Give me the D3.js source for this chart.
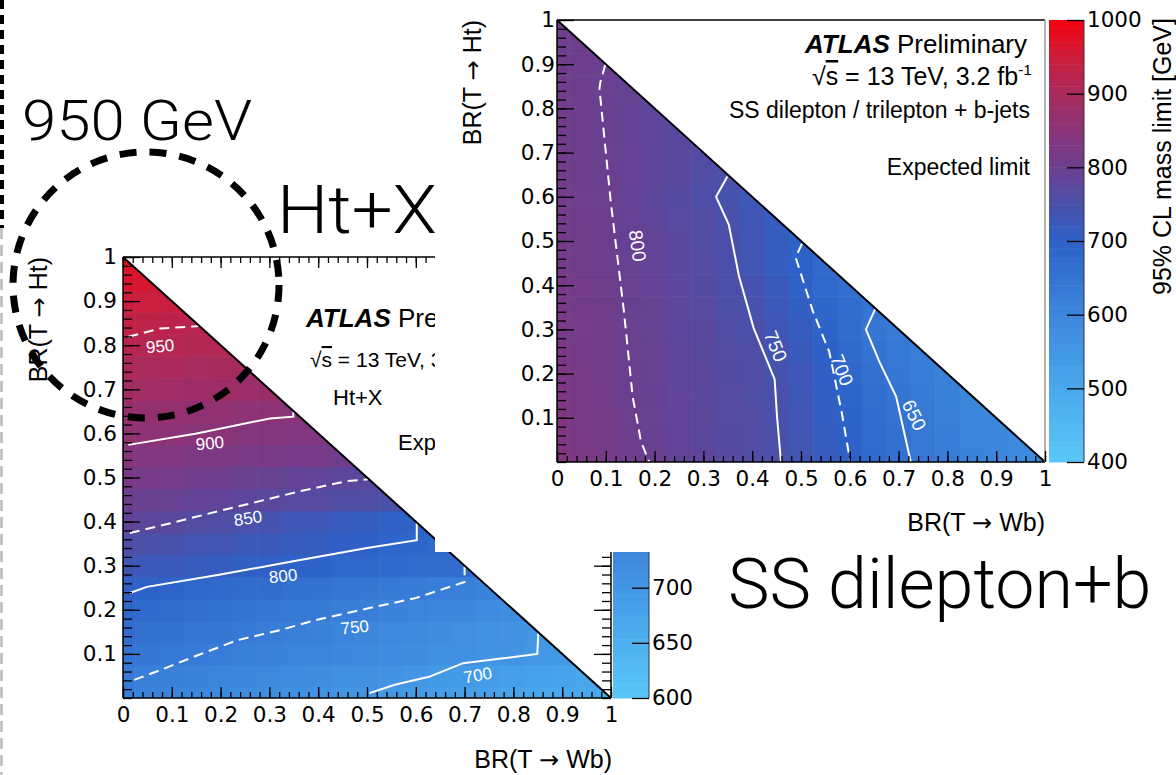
<!DOCTYPE html>
<html><head><meta charset="utf-8">
<script src="https://cdn.jsdelivr.net/npm/d3@7"></script>
<style>body{margin:0;background:#fff}svg{display:block}</style>
</head><body><svg id="c" width="1176" height="775"></svg>
<script>
// ---------------- data ----------------
const binCenters = [0,0.05,0.1,0.15,0.2,0.25,0.3,0.35,0.4,0.45,0.5,0.55,0.6,0.65,0.7,0.75,0.8,0.85,0.9,0.95,1];
const binHalf = 0.025;
const xTickVals = [0,0.1,0.2,0.3,0.4,0.5,0.6,0.7,0.8,0.9,1];
const xTickLabels = ["0","0.1","0.2","0.3","0.4","0.5","0.6","0.7","0.8","0.9","1"];
const yTickVals = [0.1,0.2,0.3,0.4,0.5,0.6,0.7,0.8,0.9,1];
const yTickLabels = ["0.1","0.2","0.3","0.4","0.5","0.6","0.7","0.8","0.9","1"];
const minorTickVals = d3.range(0, 1.0001, 0.02);

// left colour axis: only the part below the pasted right-hand plot is visible
const cbHtXVals = [600,650,700];
const cbHtXLabels = ["600","650","700"];
const cbSSVals = [400,500,600,700,800,900,1000];
const cbSSLabels = ["400","500","600","700","800","900","1000"];

// expected limit [GeV], row j = BR(T->Ht) bin, column i = BR(T->Wb) bin  (Ht+X)
const gridHtX = [
 [746,741,737,731,728,722,719,713,710,704,701,697,691,689,683,680,677,671,668,665,661],
 [753,748,745,739,736,730,728,722,719,713,711,705,702,696,694,688,685,679,677,671],
 [766,761,758,753,751,745,743,737,736,730,728,722,720,714,712,707,705,699,697],
 [779,773,770,764,761,755,752,746,743,737,734,728,725,719,716,710,707,701],
 [791,785,782,776,773,767,764,758,755,749,747,740,738,731,729,722,720],
 [804,799,796,790,788,782,779,773,771,765,762,756,754,748,745,739],
 [822,817,816,811,809,804,803,798,797,791,790,785,784,779,777],
 [840,834,832,826,824,819,817,811,809,803,801,795,793,787],
 [858,852,849,842,839,832,829,822,819,812,809,802,799],
 [869,864,863,858,857,852,851,846,845,840,839,834],
 [882,877,876,871,870,865,863,858,857,852,851],
 [895,891,890,886,886,882,881,877,877,873],
 [907,903,903,899,899,895,895,891,891],
 [916,912,912,908,908,903,903,899],
 [927,924,924,921,921,918,918],
 [937,934,935,931,932,929],
 [947,944,945,942,943],
 [957,953,952,948],
 [966,965,963],
 [977,976],
 [988]
];
// SS dilepton / trilepton + b-jets
const gridSS = [
 [836,825,818,806,799,788,781,769,762,751,737,717,701,679,661,641,627,609,601,589,581],
 [834,822,815,803,796,785,778,767,761,750,735,715,699,676,657,638,624,606,598,587],
 [832,820,813,801,794,784,777,766,760,749,733,712,695,672,653,634,620,602,595],
 [830,819,811,800,793,783,776,766,759,748,730,709,691,668,649,631,617,599],
 [828,817,810,799,792,782,775,764,758,745,727,705,685,660,643,626,613],
 [826,815,809,798,792,781,774,763,756,741,723,702,679,653,637,621],
 [824,814,808,798,790,778,771,759,752,732,716,694,669,644,631],
 [822,812,807,796,789,777,769,757,747,727,710,689,671,651],
 [820,811,805,795,787,775,767,755,742,721,703,682,666],
 [818,809,804,794,785,773,765,752,737,715,697,679],
 [816,808,803,793,784,771,763,750,735,716,701],
 [815,807,803,791,782,769,761,747,733,714],
 [814,806,801,790,777,768,755,745,729],
 [813,805,799,791,779,771,759,751],
 [812,804,798,791,780,773,762],
 [811,803,797,790,779,772],
 [810,803,797,790,780],
 [808,803,798,790],
 [808,804,800],
 [806,803],
 [805]
];

// contour lines [BR(Wb), BR(Ht)]
const contHtX950 = [[0.011,0.819],[0.076,0.838],[0.151,0.843],[0.155,0.845]];
const contHtX900 = [[0.011,0.574],[0.151,0.600],[0.301,0.634],[0.349,0.638],[0.349,0.651]];
const contHtX850 = [[0.014,0.374],[0.1,0.397],[0.2,0.425],[0.257,0.44],[0.363,0.469],[0.459,0.492],[0.502,0.496]];
const contHtX800 = [[0.014,0.238],[0.049,0.252],[0.2,0.28],[0.363,0.313],[0.5,0.34],[0.602,0.358],[0.602,0.398]];
const contHtX750 = [[0.023,0.041],[0.076,0.063],[0.153,0.097],[0.234,0.131],[0.322,0.154],[0.396,0.177],[0.517,0.207],[0.598,0.226],[0.70,0.263],[0.70,0.298]];
const contHtX700 = [[0.505,0.011],[0.557,0.03],[0.627,0.048],[0.697,0.079],[0.779,0.09],[0.849,0.1],[0.851,0.147]];
const labelsHtX = [
 {t:"950", x:0.076, y:0.798, a:-5},
 {t:"900", x:0.178, y:0.578, a:-5},
 {t:"850", x:0.256, y:0.408, a:-9},
 {t:"800", x:0.328, y:0.277, a:-6},
 {t:"750", x:0.475, y:0.161, a:-6},
 {t:"700", x:0.727, y:0.052, a:-10}
];
const contSS800 = [[0.099,0.899],[0.089,0.86],[0.087,0.845],[0.11,0.59],[0.137,0.342],[0.155,0.148],[0.172,0.047],[0.189,0.0]];
const contSS750 = [[0.349,0.646],[0.326,0.6],[0.352,0.537],[0.373,0.42],[0.403,0.303],[0.446,0.187],[0.451,0.101],[0.459,0.0]];
const contSS700 = [[0.502,0.494],[0.489,0.463],[0.524,0.342],[0.558,0.249],[0.584,0.109],[0.601,0.0]];
const contSS650 = [[0.652,0.346],[0.633,0.3],[0.661,0.226],[0.695,0.148],[0.725,0.0]];
const labelsSS = [
 {t:"800", x:0.165, y:0.489, a:82},
 {t:"750", x:0.448, y:0.262, a:68},
 {t:"700", x:0.584, y:0.208, a:68},
 {t:"650", x:0.732, y:0.106, a:64}
];

// colour palette (fraction of colour-axis range)
const paletteT = [0, 1/6, 1/3, 0.5, 7/12, 2/3, 0.75, 5/6, 11/12, 1];
const paletteC = ["#5ac8fa","#4aa8ec","#3c86dc","#2d62c8","#4a50aa","#6b3f8f","#8a3378","#a82a5c","#cc1e3c","#f5000f"];

// ---------------- layout ----------------
const layHtX = {id:"L", x0:123, x1:611, y0:698, y1:257, cbX:613, cbW:36, vmin:600, vmax:1000, ylabPad:6, clab:17};
const laySS  = {id:"R", x0:557, x1:1045, y0:462, y1:20, cbX:1049, cbW:35, vmin:400, vmax:1000, ylabPad:2, clab:19};

const svg = d3.select("#c");
const palette = d3.scaleLinear().domain(paletteT).range(paletteC).interpolate(d3.interpolateRgb).clamp(true);
const HELV = "'Liberation Sans', Arial, Helvetica, sans-serif";
const TICKF = "'DejaVu Sans', sans-serif";

svg.append("clipPath").attr("id","leftCut").append("rect").attr("x",0).attr("y",0).attr("width",435).attr("height",775);

function styleAxis(a, fs){
  a.select(".domain").remove();
  a.selectAll(".tick line").attr("stroke","#000").attr("stroke-width",1.3);
  a.selectAll("text").attr("font-family",TICKF).attr("font-size",fs).attr("fill","#000");
}

function drawChart(lay, grid, contours, clabels, cbVals, cbLabs, fullFrame){
  const g = svg.append("g");
  const xs = d3.scaleLinear().domain([0,1]).range([lay.x0, lay.x1]);
  const ys = d3.scaleLinear().domain([0,1]).range([lay.y0, lay.y1]);
  const color = v => palette((v - lay.vmin)/(lay.vmax - lay.vmin));
  const clipId = "clip" + lay.id;
  g.append("clipPath").attr("id", clipId).append("path")
    .attr("d", `M${xs(0)},${ys(0)}L${xs(1)},${ys(0)}L${xs(0)},${ys(1)}Z`);
  const hm = g.append("g").attr("clip-path", `url(#${clipId})`);
  grid.forEach((row,j) => row.forEach((v,i) => {
    hm.append("rect")
      .attr("x", xs(binCenters[i]-binHalf)).attr("y", ys(binCenters[j]+binHalf))
      .attr("width", xs(2*binHalf)-xs(0)+0.6).attr("height", ys(0)-ys(2*binHalf)+0.6)
      .attr("fill", color(v));
  }));
  const line = d3.line().x(d=>xs(d[0])).y(d=>ys(d[1]));
  contours.forEach(c => {
    hm.append("path").attr("d", line(c.pts)).attr("fill","none")
      .attr("stroke","#fff").attr("stroke-width",2)
      .attr("stroke-dasharray", c.dash ? "10 6" : null);
  });
  clabels.forEach(l => {
    g.append("text").attr("transform", `translate(${xs(l.x)},${ys(l.y)}) rotate(${l.a})`)
      .attr("text-anchor","middle").attr("dy","0.35em")
      .attr("font-family",HELV).attr("font-size",lay.clab).attr("fill","#fff").text(l.t);
  });
  g.append("line").attr("x1",xs(0)).attr("y1",ys(1)).attr("x2",xs(1)).attr("y2",ys(0))
    .attr("stroke","#000").attr("stroke-width",2);
  g.append("line").attr("x1",xs(0)).attr("y1",ys(0)).attr("x2",xs(0)).attr("y2",ys(1)).attr("stroke","#000").attr("stroke-width",1.5);
  g.append("line").attr("x1",xs(0)).attr("y1",ys(0)).attr("x2",xs(1)).attr("y2",ys(0)).attr("stroke","#000").attr("stroke-width",1.5);
  g.append("line").attr("x1",xs(0)).attr("y1",ys(1)).attr("x2",xs(1)).attr("y2",ys(1)).attr("stroke","#000").attr("stroke-width",1.5);
  g.append("line").attr("x1",xs(1)).attr("y1",ys(0)).attr("x2",xs(1)).attr("y2",ys(1))
    .attr("stroke", fullFrame ? "#000" : "#999").attr("stroke-width",1.5);

  const ay = g.append("g").attr("transform",`translate(${xs(0)},0)`)
    .call(d3.axisLeft(ys).tickValues(yTickVals).tickSize(-17).tickPadding(lay.ylabPad).tickFormat((d,i)=>yTickLabels[i]));
  styleAxis(ay, 21.5);
  const aym = g.append("g").attr("transform",`translate(${xs(0)},0)`)
    .call(d3.axisLeft(ys).tickValues(minorTickVals).tickSize(-9).tickFormat(""));
  styleAxis(aym, 21.5);
  const ax = g.append("g").attr("transform",`translate(0,${ys(0)})`)
    .call(d3.axisBottom(xs).tickValues(xTickVals).tickSize(-11).tickPadding(9).tickFormat((d,i)=>xTickLabels[i]));
  styleAxis(ax, 21.5);
  const axm = g.append("g").attr("transform",`translate(0,${ys(0)})`)
    .call(d3.axisBottom(xs).tickValues(minorTickVals).tickSize(-6).tickFormat(""));
  styleAxis(axm, 21.5);
  if (fullFrame){
    const at = g.append("g").attr("transform",`translate(0,${ys(1)})`)
      .call(d3.axisTop(xs).tickValues(xTickVals).tickSize(-11).tickFormat(""));
    styleAxis(at, 21.5);
    const atm = g.append("g").attr("transform",`translate(0,${ys(1)})`)
      .call(d3.axisTop(xs).tickValues(minorTickVals).tickSize(-6).tickFormat(""));
    styleAxis(atm, 21.5);
    const ar = g.append("g").attr("transform",`translate(${xs(1)},0)`)
      .call(d3.axisRight(ys).tickValues(yTickVals).tickSize(-17).tickFormat(""));
    styleAxis(ar, 21.5);
    const arm = g.append("g").attr("transform",`translate(${xs(1)},0)`)
      .call(d3.axisRight(ys).tickValues(minorTickVals).tickSize(-9).tickFormat(""));
    styleAxis(arm, 21.5);
  }
  const cs = d3.scaleLinear().domain([lay.vmin, lay.vmax]).range([lay.y0, lay.y1]);
  const nb = 60, step = (lay.vmax - lay.vmin)/nb;
  d3.range(nb).forEach(k => {
    const v0 = lay.vmin + k*step;
    g.append("rect").attr("x", lay.cbX).attr("y", cs(v0+step)).attr("width", lay.cbW)
      .attr("height", cs(v0)-cs(v0+step)+0.5).attr("fill", palette((v0+step/2-lay.vmin)/(lay.vmax-lay.vmin)));
  });
  g.append("line").attr("x1",lay.cbX+lay.cbW).attr("x2",lay.cbX+lay.cbW).attr("y1",lay.y0).attr("y2",lay.y1)
    .attr("stroke","#333").attr("stroke-width",1);
  const acb = g.append("g").attr("transform",`translate(${lay.cbX+lay.cbW},0)`)
    .call(d3.axisRight(cs).tickValues(cbVals).tickSize(-17).tickPadding(3).tickFormat((d,i)=>cbLabs[i]));
  styleAxis(acb, 21.5);
  return {g, xs, ys};
}

function txt(x, y, s, size, opts={}){
  const t = svg.append("text").attr("x",x).attr("y",y)
    .attr("font-family", opts.family || HELV).attr("font-size", size).attr("fill","#000")
    .attr("text-anchor", opts.anchor || "start");
  if (opts.weight) t.attr("font-weight", opts.weight);
  if (opts.rot) t.attr("transform", `rotate(${opts.rot},${x},${y})`);
  if (opts.len) t.attr("textLength", opts.len).attr("lengthAdjust","spacingAndGlyphs");
  if (opts.clip) t.attr("clip-path", "url(#leftCut)");
  t.text(s);
  return t;
}
function axisTitle(x, y, a, b, rot){
  const t = svg.append("text").attr("x",x).attr("y",y).attr("font-family",HELV)
    .attr("font-size",25).attr("text-anchor","end");
  if (rot) t.attr("transform", `rotate(${rot},${x},${y})`);
  t.append("tspan").text(a + " ");
  t.append("tspan").attr("font-family",TICKF).attr("font-size",24).text("\u2192");
  t.append("tspan").text(" " + b);
}
function atlas(x, y, size, anchor, rest, clip){
  const t = svg.append("text").attr("x",x).attr("y",y).attr("font-family",HELV)
    .attr("font-size",size).attr("text-anchor",anchor);
  if (clip) t.attr("clip-path","url(#leftCut)");
  t.append("tspan").attr("font-weight","bold").attr("font-style","italic").text("ATLAS");
  t.append("tspan").text(rest);
}
function sqrtLine(x, y, size, anchor, rest, sup, clip){
  const t = svg.append("text").attr("x",x).attr("y",y).attr("font-family",HELV)
    .attr("font-size",size).attr("text-anchor",anchor);
  if (clip) t.attr("clip-path","url(#leftCut)");
  t.append("tspan").text("\u221A");
  t.append("tspan").attr("style","text-decoration:overline").text("s");
  t.append("tspan").text(rest);
  if (sup) t.append("tspan").attr("font-size",size*0.62).attr("dy",-size*0.4).text(sup);
}

// ---------------- left chart: Ht+X ----------------
drawChart(layHtX, gridHtX,
  [{pts:contHtX950,dash:true},{pts:contHtX900,dash:false},{pts:contHtX850,dash:true},
   {pts:contHtX800,dash:false},{pts:contHtX750,dash:true},{pts:contHtX700,dash:false}],
  labelsHtX, cbHtXVals, cbHtXLabels, true);
atlas(306, 327, 26, "start", " Prel", true);
sqrtLine(310, 367, 21, "start", " = 13 TeV, 3", null, true);
txt(333, 405, "Ht+X", 22);
txt(398, 450, "Expe", 22, {clip:true});
axisTitle(47, 257, "BR(T", "Ht)", -90);
axisTitle(612, 768, "BR(T", "Wb)", 0);

// right chart pasted over the left one
svg.append("rect").attr("x",435).attr("y",0).attr("width",741).attr("height",552).attr("fill","#fff");

// ---------------- right chart: SS dilepton ----------------
drawChart(laySS, gridSS,
  [{pts:contSS800,dash:true},{pts:contSS750,dash:false},{pts:contSS700,dash:true},{pts:contSS650,dash:false}],
  labelsSS, cbSSVals, cbSSLabels, false);
atlas(1027, 53, 26, "end", " Preliminary", false);
sqrtLine(1032, 85, 25, "end", " = 13 TeV, 3.2 fb", "-1", false);
txt(1030, 118, "SS dilepton / trilepton + b-jets", 23, {anchor:"end"});
txt(1030, 175, "Expected limit", 23, {anchor:"end"});
axisTitle(481, 20, "BR(T", "Ht)", -90);
axisTitle(1045, 531, "BR(T", "Wb)", 0);
txt(1171, 18, "95% CL mass limit [GeV]", 25, {rot:-90, anchor:"end"});

// ---------------- slide annotations ----------------
const BIG = "Roboto, 'Open Sans', 'Noto Sans', sans-serif";
txt(22, 140, "950 GeV", 56, {family:BIG, weight:300, len:230});
txt(277, 233, "Ht+X", 67, {family:BIG, weight:300, len:160});
txt(728, 608, "SS dilepton+b", 70, {family:BIG, weight:300});

svg.append("circle").attr("cx",146).attr("cy",285).attr("r",133)
  .attr("fill","none").attr("stroke","#000").attr("stroke-width",7).attr("stroke-dasharray","17 13");
svg.append("line").attr("x1",2).attr("x2",2).attr("y1",0).attr("y2",228)
  .attr("stroke","#000").attr("stroke-width",4).attr("stroke-dasharray","9 6");
svg.append("line").attr("x1",1.5).attr("x2",1.5).attr("y1",228).attr("y2",775)
  .attr("stroke","#bbb").attr("stroke-width",2.5).attr("stroke-dasharray","11 6");
</script>
</body></html>
